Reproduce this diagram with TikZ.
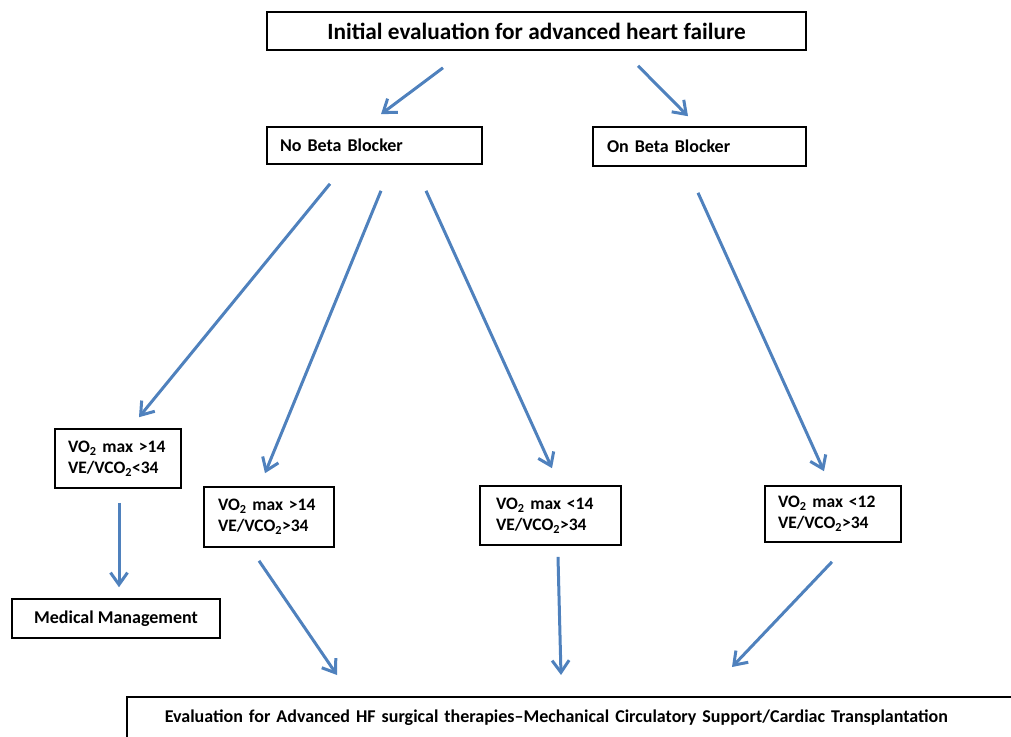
\documentclass[tikz,border=0pt]{standalone}
\usepackage{fontspec}
\setmainfont{Carlito}
\usetikzlibrary{arrows.meta,calc}
\definecolor{arrowblue}{HTML}{4F81BD}

\tikzset{
	box/.style={draw, line width=1.6pt, inner ysep=0pt, font=\bfseries\fontsize{18}{21}\selectfont},
	lbox/.style={box, align=left, text width=#1},
	vbox/.style={lbox=#1, font=\bfseries\fontsize{17.5}{21}\selectfont},
	flow/.style={draw=arrowblue, line width=3pt, -{Straight Barb[length=12pt,width=17pt]}}
}

\begin{document}
\begin{tikzpicture}[x=1pt,y=-1pt]
				\useasboundingbox (0,0) rectangle (1011,736);
				\clip (0,0) rectangle (1011,736);
				% boxes
				\node[box, minimum width=539pt, minimum height=38pt, font=\bfseries\fontsize{23.3}{27}\selectfont] (top) at (536.5,31) {Initial evaluation for advanced heart failure};
				\node[lbox=189pt, inner xsep=13pt, minimum height=37pt] (nobb) at (374.5,145.5) {No Beta Blocker};
				\node[lbox=185pt, inner xsep=14pt, minimum height=39pt] (onbb) at (699.5,146.5) {On Beta Blocker};
				\node[vbox=100pt, inner xsep=13pt, minimum height=59pt] (vlow) at (118,458.5) {VO\textsubscript{2} max >14\\VE/VCO\textsubscript{2}<34};
				\node[vbox=102pt, inner xsep=14pt, minimum height=60pt] (vhigh) at (269,517) {VO\textsubscript{2} max >14\\VE/VCO\textsubscript{2}>34};
				\node[vbox=109pt, inner xsep=16pt, minimum height=59pt] (vmid) at (550.5,515.5) {VO\textsubscript{2} max <14\\VE/VCO\textsubscript{2}>34};
				\node[vbox=110pt, inner xsep=13pt, minimum height=56pt] (vbb) at (833,514) {VO\textsubscript{2} max <12\\VE/VCO\textsubscript{2}>34};
				\node[box, minimum width=208pt, minimum height=39pt] (medm) at (116,618.5) {Medical Management};
				\node[lbox=838pt, inner xsep=38pt, inner ysep=12pt, text height=14pt, text depth=20pt, anchor=north west] (eval) at (126,696) {Evaluation for Advanced HF surgical therapies--Mechanical Circulatory Support/Cardiac Transplantation};
				% arrows
				\draw[flow] ($(top.south)+(-93.5,17)$) -- ($(nobb.north)+(6.5,-12)$);
				\draw[flow] ($(top.south)+(101.5,15)$) -- ($(onbb.north)+(-11.5,-10)$);
				\draw[flow] ($(nobb.south)+(-44.5,19)$) -- ($(vlow.north)+(21,-11)$);
				\draw[flow] ($(nobb.south)+(6.5,26)$) -- ($(vhigh.north)+(-4,-13)$);
				\draw[flow] ($(nobb.south)+(51.5,26)$) -- ($(vmid.north)+(1.5,-17)$);
				\draw[flow] ($(onbb.south)+(-1.5,26)$) -- ($(vbb.north)+(-9,-14)$);
				\draw[flow] ($(vlow.south)+(1,14)$) -- ($(medm.north)+(3,-11)$);
				\draw[flow] ($(vhigh.south)+(-10,13)$) -- ($(eval.north west)+(211,-21)$);
				\draw[flow] ($(vmid.south)+(7.5,11)$) -- ($(eval.north west)+(435,-21)$);
				\draw[flow] ($(vbb.south)+(-1,19)$) -- ($(eval.north west)+(606,-29)$);
			\end{tikzpicture}
\end{document}
